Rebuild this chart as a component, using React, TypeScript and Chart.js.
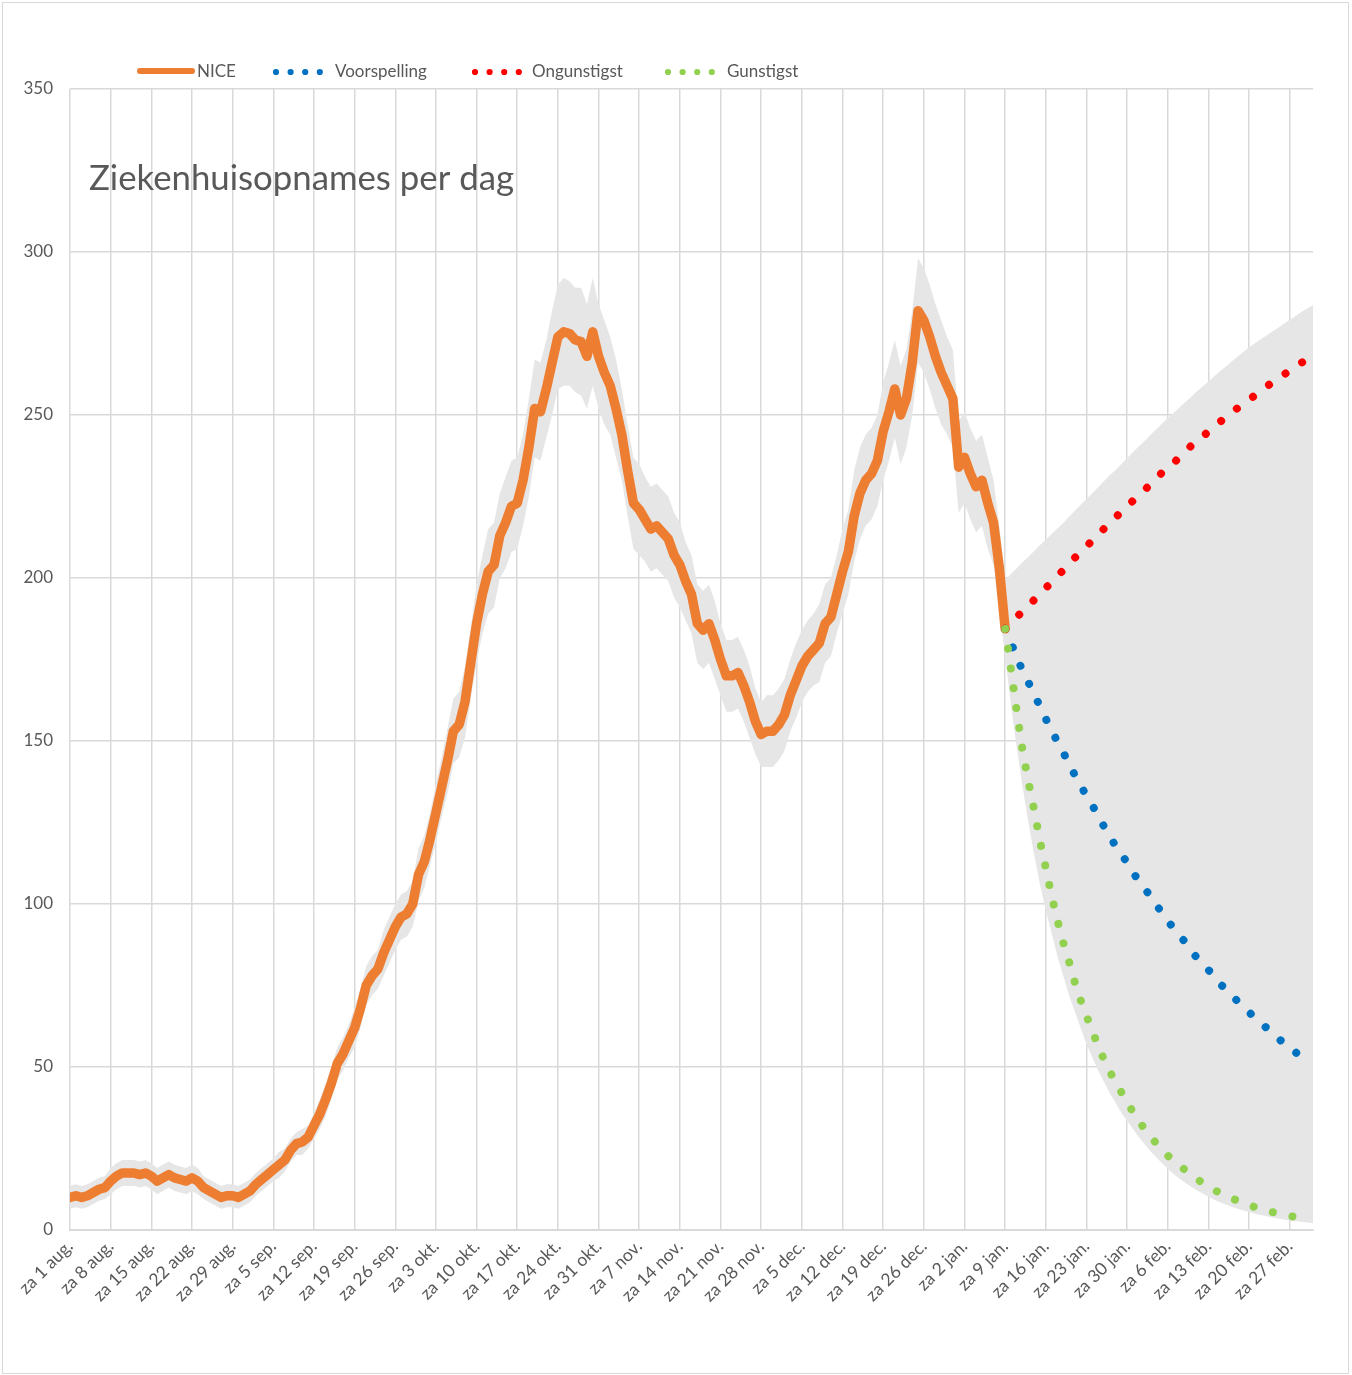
import React, { useEffect, useRef } from "react";
import { Chart, registerables } from "chart.js";

Chart.register(...registerables);

// ---------- data ----------
const weekLabels = [
  "za 1 aug.", "za 8 aug.", "za 15 aug.", "za 22 aug.", "za 29 aug.", "za 5 sep.",
  "za 12 sep.", "za 19 sep.", "za 26 sep.", "za 3 okt.", "za 10 okt.", "za 17 okt.",
  "za 24 okt.", "za 31 okt.", "za 7 nov.", "za 14 nov.", "za 21 nov.", "za 28 nov.",
  "za 5 dec.", "za 12 dec.", "za 19 dec.", "za 26 dec.", "za 2 jan.", "za 9 jan.",
  "za 16 jan.", "za 23 jan.", "za 30 jan.", "za 6 feb.", "za 13 feb.", "za 20 feb.",
  "za 27 feb.",
];
const yTicks = [0, 50, 100, 150, 200, 250, 300, 350];
const FIRST_DAY = 0;
const LAST_DAY = 214;
const FORECAST_START = 161;

// NICE, daily, day 0 (1 aug) .. day 161 (9 jan)
const nice = [
  10, 10.5, 10, 10.5, 11.5, 12.5, 13, 15, 16.5, 17.5,
  17.5, 17.5, 17, 17.5, 16.5, 15, 16, 17, 16, 15.5,
  15, 16, 15, 13, 12, 11, 10, 10.5, 10.5, 10,
  11, 12, 14, 15.5, 17, 18.5, 20, 21.5, 24.5, 26.5,
  27, 28.5, 32, 35.5, 40, 45, 51, 54, 58, 62,
  68, 75, 78, 80, 85, 89, 93, 96, 97, 100,
  109, 113, 120, 128, 136, 144, 153, 155, 162, 174,
  186, 195, 202, 204, 213, 217, 222, 223, 230, 240,
  252, 251, 258, 266, 274, 275.5, 275, 273, 272.5, 268,
  275.5, 268, 263, 259, 252, 244, 233, 223, 221, 218,
  215, 216, 214, 212, 207, 204, 199, 195, 186, 184,
  186, 181, 175, 170, 170, 171, 167, 162, 156, 152,
  153, 153, 155, 158, 164, 168.5, 173, 176, 178, 180,
  186, 188, 195, 202, 208, 219, 226, 230, 232, 236,
  245, 251, 258, 250, 255, 266, 282, 279, 274, 268,
  263, 259, 255, 234, 237, 232, 228, 230, 223, 217,
  203, 184.4,
];

// grey band, day 0 .. 160
const bandLowNice = [
  6.5, 7, 6.5, 7, 8, 9, 9.5, 11, 12.5, 13.5,
  13.5, 13.5, 13, 13.5, 12.5, 11, 12, 13, 12, 11.5,
  11, 12, 11, 9.5, 8.5, 7.5, 6.5, 7, 7, 6.5,
  7.5, 8.5, 10.5, 12, 13.5, 15, 16, 18, 21, 23,
  23, 25, 28, 31, 35, 40, 46, 49, 53, 56,
  62, 69, 72, 74, 78, 82, 86, 89, 90, 93,
  101, 105, 112, 119, 127, 134, 143, 145, 151, 163,
  174, 183, 189, 191, 200, 203, 208, 209, 216, 225,
  237, 236, 243, 250, 258, 259, 259, 257, 256, 252,
  259, 252, 247, 244, 237, 230, 219, 209, 207, 205,
  202, 203, 201, 199, 194, 191, 187, 183, 174, 172,
  174, 169, 164, 159, 159, 160, 156, 151, 146, 142,
  142, 142, 144, 147, 153, 157, 162, 165, 167, 168,
  174, 176, 183, 189, 195, 205, 212, 216, 218, 222,
  230, 236, 243, 235, 240, 250, 266, 263, 258, 252,
  247, 244, 240, 220, 223, 218, 214, 216, 209, 204,
  190,
];
const bandHighNice = [
  13.5, 14, 13.5, 14, 15, 16, 16.5, 19, 20.5, 21.5,
  21.5, 21.5, 21, 21.5, 20.5, 19, 20, 21, 20, 19.5,
  19, 20, 19, 16.5, 15.5, 14.5, 13.5, 14, 14, 13.5,
  14.5, 15.5, 17.5, 19, 20.5, 22, 24, 25, 28, 30,
  31, 32, 36, 40, 45, 50, 56, 59, 63, 68,
  74, 81, 84, 86, 92, 96, 100, 103, 104, 107,
  117, 121, 128, 137, 145, 154, 163, 165, 173, 185,
  198, 207, 215, 217, 226, 231, 236, 237, 244, 255,
  267, 266, 273, 282, 290, 292, 291, 289, 289, 284,
  292, 284, 279, 274, 267, 258, 247, 237, 235, 231,
  228, 229, 227, 225, 220, 217, 211, 207, 198, 196,
  198, 193, 186, 181, 181, 182, 178, 173, 166, 162,
  164, 164, 166, 169, 175, 180, 184, 187, 189, 192,
  198, 200, 207, 215, 221, 233, 240, 244, 246, 250,
  260, 266, 273, 265, 270, 282, 298, 295, 290, 284,
  279, 274, 270, 248, 251, 246, 242, 244, 237, 230,
  216,
];
// grey band, day 161 .. 214
const bandLowForecast = [
  176, 161, 148, 136, 125, 115, 106, 98, 91, 84,
  78, 72, 67, 62, 57, 53, 49, 45.5, 42, 39,
  36, 33.5, 31, 28.5, 26.3, 24.2, 22.3, 20.5, 18.8, 17.2,
  15.8, 14.5, 13.3, 12.2, 11.2, 10.2, 9.3, 8.5, 7.8, 7.1,
  6.5, 6, 5.5, 5, 4.6, 4.2, 3.8, 3.5, 3.2, 2.9,
  2.7, 2.5, 2.3, 2.1,
];
const bandHighForecast = [
  199.4, 201.2, 203, 204.8, 206.5, 208.3, 210.1, 211.7, 213.5, 215.2,
  216.9, 218.8, 220.6, 222.5, 224.2, 226, 227.8, 229.7, 231.5, 233.1,
  235, 236.8, 238.6, 240.3, 242, 243.9, 245.6, 247.4, 249, 250.6,
  252.3, 253.9, 255.5, 257.2, 258.8, 260.3, 261.9, 263.4, 264.9, 266.4,
  267.9, 269.3, 270.8, 272, 273.2, 274.4, 275.6, 276.8, 278, 279.2,
  280.4, 281.6, 282.7, 283.7,
];

// forecasts, day 161 .. 213
const voorspelling = [
  184.4, 180.1, 175.8, 171.5, 168, 164.3, 160.6, 156.8, 153.2, 149.8,
  146.5, 143, 139.5, 136.3, 133.2, 130.3, 127.1, 123.8, 120.9, 117.8,
  115.4, 112.6, 109.7, 107.1, 104.8, 102.4, 99.8, 97.3, 94.9, 92.5,
  90.4, 88.3, 85.8, 83.5, 81.6, 79.8, 77.7, 75.6, 73.7, 72,
  70.2, 68.5, 66.8, 65.1, 63.5, 62, 60.4, 58.8, 57.3, 55.9,
  54.5, 53.1, 51.8,
];
const ongunstigst = [
  184.4, 186.2, 188, 189.8, 191.5, 193.3, 195.1, 196.9, 198.8, 200.6,
  202.4, 204.3, 206.2, 207.9, 209.7, 211.5, 213.3, 215.1, 216.8, 218.6,
  220.3, 222, 223.7, 225.4, 227, 228.7, 230.6, 232.3, 233.9, 235.3,
  237, 238.8, 240.5, 242, 243.4, 244.9, 246.4, 247.9, 249.3, 250.7,
  252.1, 253.5, 254.7, 256, 257.4, 258.7, 260, 261.2, 262.4, 263.6,
  264.8, 266, 267.1,
];
const gunstigst = [
  184.4, 172, 159, 147, 137.5, 128.8, 119.3, 111, 102.5, 95,
  88.2, 82.3, 75.9, 70.5, 65.6, 61.4, 56.2, 52.4, 48.7, 45.3,
  42.3, 39.2, 36.2, 33.5, 31, 28.8, 26.6, 24.6, 22.8, 21.3,
  19.8, 18.4, 17, 15.7, 14.4, 13.3, 12.3, 11.3, 10.4, 9.6,
  9.1, 8.4, 7.7, 7, 6.5, 6, 5.5, 5.1, 4.7, 4.3,
  4, 3.7, 3.4,
];

const TITLE = "Ziekenhuisopnames per dag";
const seriesNames = ["NICE", "Voorspelling", "Ongunstigst", "Gunstigst"];

// ---------- styling ----------
const FONT = "Lato";
const TEXT = "#595959";
const GRID = "#d9d9d9";
const ORANGE = "#ed7d31";
const BLUE = "#0070c0";
const RED = "#ff0000";
const GREEN = "#92d050";
const BAND = "#e6e6e6";

const toPoints = (arr: number[], start: number) =>
  arr.map((y, i) => ({ x: start + i, y }));

const decorPlugin = {
  id: "decor",
  afterDraw(chart: any) {
    const ctx = chart.ctx as CanvasRenderingContext2D;
    ctx.save();
    // outer border
    ctx.strokeStyle = GRID;
    ctx.lineWidth = 1;
    ctx.strokeRect(2.5, 2.5, 1346, 1371);

    // title inside the plot
    ctx.font = `100px ${FONT}`;
    const w100 = ctx.measureText(TITLE).width;
    const size = (100 * 425) / w100;
    ctx.font = `${size}px ${FONT}`;
    ctx.fillStyle = TEXT;
    ctx.textBaseline = "alphabetic";
    ctx.textAlign = "left";
    ctx.fillText(TITLE, 89, 190);

    // legend
    const ly = 71;
    ctx.font = `17px ${FONT}`;
    ctx.textBaseline = "middle";
    ctx.lineCap = "round";
    ctx.strokeStyle = ORANGE;
    ctx.lineWidth = 6;
    ctx.beginPath();
    ctx.moveTo(140, ly);
    ctx.lineTo(192, ly);
    ctx.stroke();
    ctx.fillStyle = TEXT;
    ctx.fillText(seriesNames[0], 197, ly + 1);

    const dotted = [
      { x: 276, tx: 335, color: BLUE, name: seriesNames[1] },
      { x: 475, tx: 532, color: RED, name: seriesNames[2] },
      { x: 668, tx: 727, color: GREEN, name: seriesNames[3] },
    ];
    for (const d of dotted) {
      ctx.fillStyle = d.color;
      for (let k = 0; k < 4; k++) {
        ctx.beginPath();
        ctx.arc(d.x + k * 14.6, ly + 1, 3.1, 0, Math.PI * 2);
        ctx.fill();
      }
      ctx.fillStyle = TEXT;
      ctx.fillText(d.name, d.tx, ly + 1);
    }
    ctx.restore();
  },
};

export default function App() {
  const ref = useRef<HTMLCanvasElement | null>(null);

  useEffect(() => {
    document.body.style.margin = "0";
    const canvas = ref.current;
    if (!canvas) return;

    const bandLow = [...bandLowNice, ...bandLowForecast];
    const bandHigh = [...bandHighNice, ...bandHighForecast];

    const dotLine = (color: string) => ({
      borderColor: color,
      borderWidth: 8,
      borderDash: [0.01, 19.99],
      borderCapStyle: "round" as const,
      borderJoinStyle: "round" as const,
      pointRadius: 0,
      fill: false,
      tension: 0,
    });

    const chart = new Chart(canvas, {
      type: "line",
      data: {
        datasets: [
          {
            label: "bandLow",
            data: toPoints(bandLow, FIRST_DAY),
            borderColor: "rgba(0,0,0,0)",
            borderWidth: 0,
            pointRadius: 0,
            fill: false,
            order: 10,
          },
          {
            label: "bandHigh",
            data: toPoints(bandHigh, FIRST_DAY),
            borderColor: "rgba(0,0,0,0)",
            borderWidth: 0,
            backgroundColor: BAND,
            pointRadius: 0,
            fill: "-1",
            order: 9,
          },
          {
            label: seriesNames[0],
            data: toPoints(nice, FIRST_DAY),
            borderColor: ORANGE,
            borderWidth: 9.5,
            borderCapStyle: "round",
            borderJoinStyle: "round",
            pointRadius: 0,
            fill: false,
            tension: 0,
            order: 4,
          },
          { label: seriesNames[1], data: toPoints(voorspelling, FORECAST_START), ...dotLine(BLUE), order: 3 },
          { label: seriesNames[2], data: toPoints(ongunstigst, FORECAST_START), ...dotLine(RED), order: 2 },
          { label: seriesNames[3], data: toPoints(gunstigst, FORECAST_START), ...dotLine(GREEN), order: 1 },
        ],
      },
      options: {
        responsive: false,
        animation: false,
        events: [],
        devicePixelRatio: 1,
        layout: { padding: { left: 0, top: 89, right: 39, bottom: 0 } },
        plugins: {
          legend: { display: false },
          title: { display: false },
          tooltip: { enabled: false },
          filler: { drawTime: "beforeDatasetsDraw" },
        },
        scales: {
          x: {
            type: "linear",
            min: FIRST_DAY,
            max: LAST_DAY,
            afterBuildTicks: (scale: any) => {
              scale.ticks = weekLabels.map((_, i) => ({ value: i * 7 }));
            },
            afterFit: (scale: any) => {
              scale.height = 145;
            },
            grid: { color: GRID, lineWidth: 1.5, drawTicks: false },
            border: { display: true, color: GRID, width: 2 },
            ticks: {
              autoSkip: false,
              minRotation: 45,
              maxRotation: 45,
              padding: 6,
              color: TEXT,
              font: { family: FONT, size: 17.5 },
              callback: (value: any) => weekLabels[Math.round(Number(value) / 7)] ?? "",
            },
          },
          y: {
            min: yTicks[0],
            max: yTicks[yTicks.length - 1],
            afterBuildTicks: (scale: any) => {
              scale.ticks = yTicks.map((v) => ({ value: v }));
            },
            afterFit: (scale: any) => {
              scale.width = 70;
            },
            grid: { color: GRID, lineWidth: 1.5, drawTicks: false },
            border: { display: false },
            ticks: {
              padding: 17,
              color: TEXT,
              font: { family: FONT, size: 17 },
            },
          },
        },
      },
      plugins: [decorPlugin],
    } as any);

    return () => chart.destroy();
  }, []);

  return (
    <div style={{ position: "absolute", left: 0, top: 0, width: 1352, height: 1375, background: "#fff" }}>
      <canvas ref={ref} width={1352} height={1375} style={{ display: "block", width: 1352, height: 1375 }} />
    </div>
  );
}
